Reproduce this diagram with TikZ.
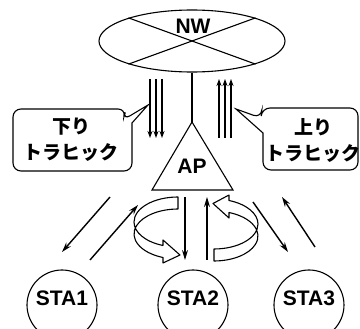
\documentclass[tikz,border=0pt]{standalone}
\usepackage{fontspec}
\setmainfont{Liberation Sans}
\newfontfamily\jpfont{Noto Sans CJK JP}
\usetikzlibrary{shapes.geometric, arrows.meta, positioning}

\begin{document}
\begin{tikzpicture}[
    x=1pt, y=-1pt,
    net/.style={draw, ellipse, minimum width=186pt, minimum height=62pt, inner sep=0pt},
    sta/.style={draw, circle, minimum size=70pt, inner sep=0pt, text height=15pt, text depth=13pt, font=\bfseries\fontsize{21}{21}\selectfont},
    lbl/.style={font=\bfseries\fontsize{21}{21}\selectfont},
    balloon/.style={draw, rounded corners=8pt},
    jp/.style={font=\jpfont\bfseries\fontsize{19}{26}\selectfont, align=center},
    traffic/.style={line width=1.2pt, -{Stealth[length=7pt, width=5pt]}},
    flow/.style={line width=1.4pt, -{Stealth[length=10pt, width=6pt]}},
    ring/.style={draw, fill=white, line width=1.1pt, line join=round},
    line width=1.1pt
]
    \useasboundingbox (0,0) rectangle (360,329);

    % Network
    \node[net] (nw) at (192,41) {};
    \draw (nw.20) -- (nw.200);
    \draw (nw.160) -- (nw.340);
    \node[lbl] (nwlbl) at (193,26) {NW};

    % Access point
    \coordinate (apex) at (192,122);
    \draw (apex) -- (233,190) -- (152,190) -- cycle;
    \node[lbl] (ap) at (192,166) {AP};
    \draw (nw.south) -- (apex);

    % Traffic to and from the network
    \foreach \x in {150,156,162} \draw[traffic] (\x,79) -- (\x,138);
    \foreach \x in {219,225,231} \draw[traffic] (\x,138) -- (\x,79);

    % Callouts
    \draw[balloon] (13,140) |- (126,109) -- (123,120) [sharp corners] -- (148,105) -- (132,123) [rounded corners=8pt] |- (13,171) -- cycle;
    \node[jp] (down) at (71,140) {下り\\トラヒック};
    \draw[balloon] (358,140) |- (262,108) -- (261,118) [sharp corners] -- (236,109) -- (263,133) [rounded corners=8pt] |- (358,170) -- cycle;
    \node[jp] (up) at (313,140) {上り\\トラヒック};

    % Rotation arrows
    \draw[ring] (178,197) arc[start angle=270, end angle=110, x radius=44, y radius=25] -- (163,240) -- (180,255) -- (163,263) -- (163,257.5) arc[start angle=110, end angle=270, x radius=44, y radius=25] -- cycle;
    \draw[ring] (214,249) arc[start angle=90, end angle=-70, x radius=44, y radius=25] -- (229,195) -- (213,203.5) -- (229,218) -- (229,212.5) arc[start angle=-70, end angle=90, x radius=44, y radius=25] -- cycle;

    % Stations
    \node[sta] (sta1) at (62,305) {STA1};
    \node[sta] (sta2) at (193,305) {STA2};
    \node[sta] (sta3) at (309,305) {STA3};

    \draw[flow] (110,197) -- (62,252);
    \draw[flow] (90,260) -- (138,205);
    \draw[flow] (185,197) -- (185,260);
    \draw[flow] (207,260) -- (207,197);
    \draw[flow] (253,202) -- (288,252);
    \draw[flow] (315,247) -- (282,197);
\end{tikzpicture}
\end{document}
